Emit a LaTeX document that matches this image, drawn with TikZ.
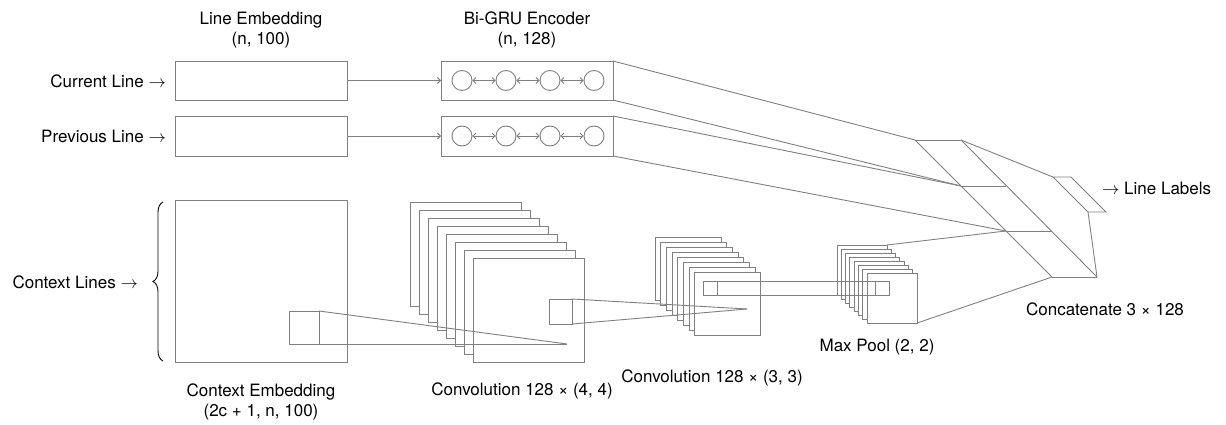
\documentclass[tikz,border=0pt]{standalone}
\usepackage{fontspec}
\setmainfont{TeX Gyre Heros}
\usetikzlibrary{arrows.meta,decorations.pathreplacing}
\definecolor{linegray}{gray}{0.5}

\begin{document}
\begin{tikzpicture}[x=1pt,y=-1pt,>={Straight Barb[length=3pt,width=6pt]},
    font=\fontsize{17}{20}\selectfont]
        \tikzstyle{box}=[draw=linegray,line width=0.9pt,fill=white,inner sep=0pt,outer sep=0pt]
        \tikzstyle{cell}=[draw=linegray,line width=0.9pt,shape=circle,inner sep=0pt,minimum size=20pt]
        \tikzstyle{proj}=[draw=linegray,line width=0.9pt]
        \tikzstyle{lbl}=[align=center,inner sep=0pt]

        \useasboundingbox (0,0) rectangle (1226,425);

        % line inputs
        \node[box,minimum width=172pt,minimum height=39pt](cur) at (261,80.5){};
        \node[box,minimum width=172pt,minimum height=40pt](prev) at (261,136){};
        \node[box,minimum width=172pt,minimum height=39pt](gcur) at (527,80.5){};
        \node[box,minimum width=172pt,minimum height=40pt](gprev) at (527,136){};

        \foreach \i/\x in {1/462,2/506,3/550,4/594}{
            \node[cell](a\i) at (\x,80.5){};
            \node[cell](b\i) at (\x,136){};
        }
        \draw[proj,<->] (a1) -- (a2);
        \draw[proj,<->] (a2) -- (a3);
        \draw[proj,<->] (a3) -- (a4);
        \draw[proj,<->] (b1) -- (b2);
        \draw[proj,<->] (b2) -- (b3);
        \draw[proj,<->] (b3) -- (b4);

        \draw[proj,->] (cur) -- (gcur);
        \draw[proj,->] (prev) -- (gprev);

        \node[lbl,anchor=east](curl) at (166,81){Current Line $\rightarrow$};
        \node[lbl,anchor=east](prevl) at (166,136){Previous Line $\rightarrow$};
        \node[lbl](embl) at (261,30){Line Embedding\\(n, 100)};
        \node[lbl](grul) at (527,30){Bi-GRU Encoder\\(n, 128)};

        % context
        \node[box,minimum width=172pt,minimum height=162pt](ctx) at (261,281){};
        \node[box,minimum width=30pt,minimum height=33pt](ctxk) at (304,327.5){};
        \draw[decorate,decoration={brace,amplitude=10pt},line width=0.9pt] (163,361) -- (163,202);
        \node[lbl,anchor=east](ctxl) at (138,282){Context Lines $\rightarrow$};
        \node[lbl](ctxn) at (261,402){Context Embedding\\(2c + 1, n, 100)};

        % convolutions and pooling
        \foreach \k in {0,...,7}
            \node[box,minimum width=111pt,minimum height=104pt](ca\k) at ({465.5+9*\k},{254+8*\k}){};
        \foreach \k in {0,...,7}
            \node[box,minimum width=66pt,minimum height=63pt](cb\k) at ({688+5.7*\k},{268.5+5*\k}){};
        \foreach \k in {0,...,7}
            \node[box,minimum width=50pt,minimum height=50pt](mp\k) at ({862+4.3*\k},{270+4*\k}){};

        \node[box,fill=none,minimum width=23pt,minimum height=25pt](cak) at (560.5,311.5){};
        \node[box,fill=none,minimum width=14pt,minimum height=14.5pt](cbk) at (710.5,288.25){};
        \node[box,fill=none,minimum width=14pt,minimum height=14.5pt](mpk) at (882,288.25){};
        \draw[proj] (cbk.north west) rectangle (mpk.south east);

        \coordinate (ctxtip) at (567,344);
        \coordinate (catip) at (747,309);
        \draw[proj] (ctxk.north east) -- (ctxtip);
        \draw[proj] (ctxk.south east) -- (ctxtip);
        \draw[proj] (cak.north east) -- (catip);
        \draw[proj] (cak.south east) -- (catip);

        \node[lbl](cal) at (522,391){Convolution 128 × (4, 4)};
        \node[lbl](cbl) at (712,378){Convolution 128 × (3, 3)};
        \node[lbl](mpl) at (877,347){Max Pool (2, 2)};

        % concatenation and output
        \coordinate (ta) at (915,140);
        \coordinate (tb) at (961,140);
        \coordinate (m1) at (961,186);
        \coordinate (m2) at (1006,186);
        \coordinate (n1) at (1006,231);
        \coordinate (n2) at (1052,231);
        \coordinate (ba) at (1052,277);
        \coordinate (bb) at (1097,277);
        \draw[proj] (ta) -- (tb);
        \draw[proj] (m1) -- (m2);
        \draw[proj] (n1) -- (n2);
        \draw[proj] (ba) -- (bb);
        \draw[proj] (ta) -- (ba);
        \draw[proj] (tb) -- (bb);

        \draw[proj] (gcur.north east) -- (ta);
        \draw[proj] (gcur.south east) -- (m1);
        \draw[proj] (gprev.north east) -- (m1);
        \draw[proj] (gprev.south east) -- (n1);
        \draw[proj] (mp0.north east) -- (n1);
        \draw[proj] (mp7.south east) -- (ba);

        \coordinate (oa) at (1053,177);
        \coordinate (ob) at (1071,177);
        \coordinate (oc) at (1106,212);
        \coordinate (od) at (1088,212);
        \draw[proj] (oa) -- (ob) -- (oc) -- (od) -- cycle;
        \draw[proj] (tb) -- (oa);
        \draw[proj] (bb) -- (od);

        \node[lbl,anchor=west](outl) at (1102,188){$\rightarrow$ Line Labels};
        \node[lbl](catl) at (1105,309){Concatenate 3 × 128};

    \end{tikzpicture}
\end{document}
